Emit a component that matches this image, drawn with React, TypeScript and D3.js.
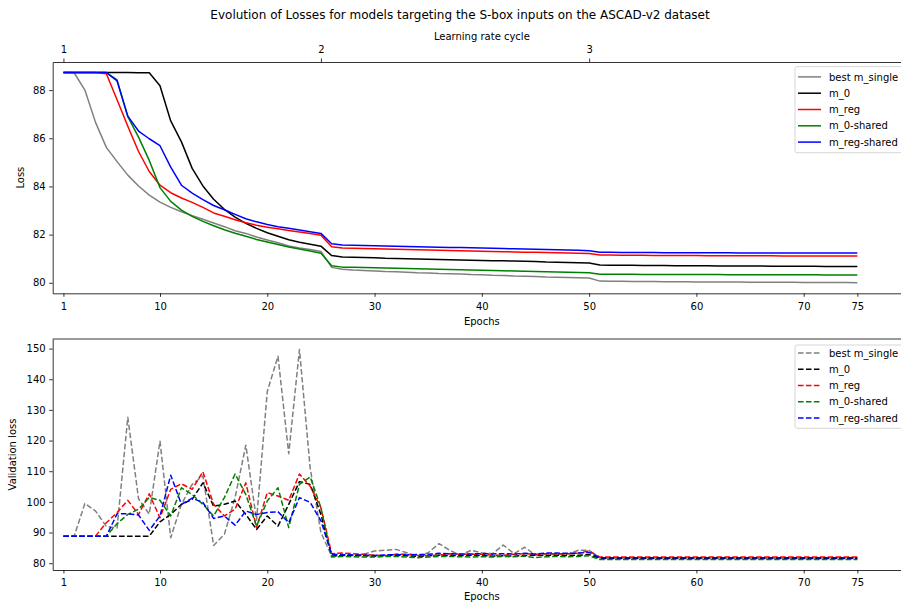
import React, { useEffect, useRef } from "react";
import * as d3 from "d3";

const epochs = d3.range(1, 76);
const seriesNames = ["best m_single", "m_0", "m_reg", "m_0-shared", "m_reg-shared"];

// training loss per epoch
const bestSingleLoss = [
  88.73, 88.72, 88.0, 86.65, 85.62, 85.03, 84.47, 84.02, 83.64, 83.35,
  83.13, 82.95, 82.79, 82.64, 82.48, 82.33, 82.16, 82.05, 81.9, 81.78,
  81.66, 81.53, 81.44, 81.38, 81.3, 80.64, 80.56, 80.53, 80.51, 80.49,
  80.47, 80.46, 80.44, 80.42, 80.41, 80.39, 80.38, 80.36, 80.34, 80.33,
  80.31, 80.3, 80.28, 80.27, 80.26, 80.24, 80.23, 80.22, 80.21, 80.2,
  80.07, 80.06, 80.06, 80.05, 80.05, 80.05, 80.04, 80.04, 80.04, 80.03,
  80.03, 80.03, 80.03, 80.03, 80.02, 80.02, 80.02, 80.02, 80.02, 80.01,
  80.01, 80.01, 80.01, 80.01, 80.0,
];
const m0Loss = [
  88.73, 88.73, 88.73, 88.73, 88.73, 88.73, 88.73, 88.72, 88.72, 88.18,
  86.72, 85.85, 84.75, 84.02, 83.47, 83.05, 82.73, 82.47, 82.26, 82.08,
  81.93, 81.79, 81.68, 81.6, 81.52, 81.13, 81.07, 81.06, 81.05, 81.04,
  81.02, 81.01, 81.0, 80.99, 80.98, 80.97, 80.96, 80.95, 80.94, 80.93,
  80.92, 80.91, 80.9, 80.89, 80.88, 80.86, 80.85, 80.84, 80.83, 80.82,
  80.74, 80.73, 80.73, 80.73, 80.72, 80.72, 80.72, 80.71, 80.71, 80.71,
  80.71, 80.7, 80.7, 80.7, 80.7, 80.7, 80.69, 80.69, 80.69, 80.69,
  80.69, 80.68, 80.68, 80.68, 80.68,
];
const mRegLoss = [
  88.73, 88.73, 88.73, 88.73, 88.68, 87.6, 86.5, 85.45, 84.62, 84.05,
  83.74, 83.52, 83.34, 83.13, 82.9, 82.76, 82.62, 82.49, 82.39, 82.31,
  82.24, 82.17, 82.11, 82.05, 81.97, 81.5, 81.44, 81.43, 81.42, 81.41,
  81.4, 81.39, 81.38, 81.37, 81.36, 81.35, 81.34, 81.33, 81.32, 81.31,
  81.3, 81.29, 81.28, 81.27, 81.27, 81.26, 81.25, 81.24, 81.23, 81.22,
  81.15, 81.15, 81.14, 81.14, 81.14, 81.13, 81.13, 81.13, 81.13, 81.13,
  81.12, 81.12, 81.12, 81.12, 81.12, 81.12, 81.12, 81.11, 81.11, 81.11,
  81.11, 81.11, 81.11, 81.11, 81.11,
];
const m0SharedLoss = [
  88.73, 88.73, 88.73, 88.73, 88.73, 88.42, 86.9, 86.05, 85.08, 83.95,
  83.38, 83.02, 82.76, 82.55, 82.37, 82.2, 82.06, 81.93, 81.8, 81.69,
  81.59, 81.49, 81.4, 81.32, 81.23, 80.71, 80.65, 80.64, 80.63, 80.62,
  80.61, 80.6, 80.59, 80.58, 80.57, 80.56, 80.55, 80.54, 80.53, 80.52,
  80.51, 80.5, 80.49, 80.48, 80.47, 80.46, 80.45, 80.44, 80.43, 80.42,
  80.35, 80.35, 80.35, 80.35, 80.34, 80.34, 80.34, 80.34, 80.34, 80.34,
  80.34, 80.34, 80.33, 80.33, 80.33, 80.33, 80.33, 80.33, 80.33, 80.33,
  80.33, 80.32, 80.32, 80.32, 80.32,
];
const mRegSharedLoss = [
  88.73, 88.73, 88.73, 88.73, 88.73, 88.38, 86.92, 86.3, 85.98, 85.69,
  84.8, 84.05, 83.72, 83.45, 83.21, 83.03, 82.84, 82.66, 82.53, 82.42,
  82.33, 82.26, 82.19, 82.12, 82.05, 81.62, 81.57, 81.56, 81.55, 81.54,
  81.53, 81.52, 81.51, 81.5, 81.49, 81.48, 81.47, 81.46, 81.45, 81.44,
  81.43, 81.42, 81.41, 81.4, 81.39, 81.38, 81.37, 81.36, 81.35, 81.33,
  81.27, 81.27, 81.26, 81.26, 81.26, 81.26, 81.25, 81.25, 81.25, 81.25,
  81.25, 81.25, 81.25, 81.24, 81.24, 81.24, 81.24, 81.24, 81.24, 81.24,
  81.24, 81.24, 81.24, 81.24, 81.24,
];

// validation loss per epoch
const bestSingleVal = [
  88.8, 88.8, 99.5, 97.0, 92.0, 91.5, 127.6, 101.0, 96.0, 119.8,
  88.3, 99.2, 105.7, 108.5, 85.8, 89.4, 101.4, 118.5, 94.0, 136.0,
  147.5, 115.7, 149.7, 111.0, 90.0, 82.3, 82.6, 82.6, 82.9, 84.0,
  84.2, 84.5, 83.4, 82.3, 83.4, 86.4, 84.2, 82.6, 84.2, 83.4,
  83.1, 85.9, 83.1, 85.2, 82.6, 82.9, 82.9, 82.9, 84.2, 84.2,
  81.7, 81.6, 81.6, 81.6, 81.6, 81.6, 81.6, 81.6, 81.6, 81.6,
  81.6, 81.6, 81.6, 81.6, 81.6, 81.6, 81.6, 81.6, 81.6, 81.6,
  81.6, 81.6, 81.6, 81.6, 81.6,
];
const m0Val = [
  88.8, 88.8, 88.8, 88.8, 88.8, 88.8, 88.8, 88.8, 88.8, 93.5,
  95.9, 99.2, 100.8, 106.2, 98.6, 99.2, 100.3, 95.9, 91.0, 95.4,
  92.1, 99.2, 106.6, 105.7, 95.9, 82.3, 82.5, 82.5, 82.4, 82.3,
  82.5, 82.6, 82.4, 82.2, 82.4, 82.6, 82.5, 82.5, 82.6, 82.5,
  82.3, 82.4, 82.3, 82.5, 82.6, 82.5, 82.6, 82.5, 82.6, 82.8,
  81.6, 81.5, 81.5, 81.5, 81.5, 81.5, 81.5, 81.5, 81.5, 81.5,
  81.5, 81.5, 81.5, 81.5, 81.5, 81.5, 81.5, 81.5, 81.5, 81.5,
  81.5, 81.5, 81.5, 81.5, 81.5,
];
const mRegVal = [
  88.8, 88.8, 88.8, 88.9, 93.2, 96.5, 100.5, 95.9, 102.6, 94.8,
  104.1, 105.9, 104.1, 109.8, 99.2, 95.4, 97.6, 106.2, 91.6, 103.0,
  101.9, 100.5, 109.1, 105.1, 98.1, 83.1, 83.3, 83.1, 82.9, 82.6,
  82.4, 82.9, 82.9, 82.6, 82.4, 82.6, 83.1, 82.9, 82.9, 82.9,
  82.6, 82.6, 82.9, 83.1, 82.9, 83.1, 83.1, 83.1, 83.3, 84.0,
  82.0, 82.0, 82.0, 82.0, 82.0, 82.0, 82.0, 82.0, 82.0, 82.0,
  82.0, 82.0, 82.0, 82.0, 82.0, 82.0, 82.0, 82.0, 82.0, 82.0,
  82.0, 82.0, 82.0, 82.0, 82.0,
];
const m0SharedVal = [
  88.8, 88.8, 88.8, 88.8, 88.8, 92.9, 95.9, 97.6, 101.4, 100.5,
  95.4, 104.6, 102.4, 99.2, 95.4, 101.4, 109.1, 102.4, 92.1, 100.3,
  104.6, 91.6, 105.7, 108.1, 98.1, 82.0, 82.2, 82.1, 82.0, 82.0,
  82.2, 82.2, 82.0, 81.8, 82.0, 82.2, 82.2, 82.1, 82.0, 82.1,
  82.0, 82.2, 82.1, 82.3, 81.8, 82.1, 82.2, 82.1, 82.2, 82.4,
  81.2, 81.2, 81.2, 81.2, 81.2, 81.2, 81.2, 81.2, 81.2, 81.2,
  81.2, 81.2, 81.2, 81.2, 81.2, 81.2, 81.2, 81.2, 81.2, 81.2,
  81.2, 81.2, 81.2, 81.2, 81.2,
];
const mRegSharedVal = [
  88.8, 88.8, 88.8, 88.8, 88.8, 96.1, 96.1, 95.7, 90.7, 95.4,
  108.7, 99.2, 101.2, 99.8, 94.6, 95.4, 92.4, 97.0, 95.9, 96.5,
  96.8, 93.2, 101.4, 99.8, 93.8, 82.9, 82.8, 82.7, 82.6, 82.5,
  82.7, 82.8, 82.7, 82.8, 82.9, 83.2, 83.1, 83.0, 83.0, 83.1,
  83.0, 83.1, 83.0, 83.2, 83.0, 83.3, 83.3, 83.2, 83.3, 83.5,
  81.8, 81.8, 81.8, 81.8, 81.8, 81.8, 81.8, 81.8, 81.8, 81.8,
  81.8, 81.8, 81.8, 81.8, 81.8, 81.8, 81.8, 81.8, 81.8, 81.8,
  81.8, 81.8, 81.8, 81.8, 81.8,
];

const xTickValues = [1, 10, 20, 30, 40, 50, 60, 70, 75];
const cycleTickEpochs = [1, 25, 50];
const cycleTickLabels = ["1", "2", "3"];
const lossTickValues = [80, 82, 84, 86, 88];
const valTickValues = [80, 90, 100, 110, 120, 130, 140, 150];

const colors = ["#808080", "#000000", "#ff0000", "#008000", "#0000ff"];
const FONT = "'DejaVu Sans', sans-serif";

const styleAxis = (g) => {
  g.attr("font-family", FONT).attr("font-size", 10);
  g.selectAll("path.domain").attr("stroke", "#000").attr("stroke-width", 0.8);
  g.selectAll(".tick line").attr("stroke", "#000").attr("stroke-width", 0.8);
  g.selectAll(".tick text").attr("fill", "#000");
};

const App = () => {
  const ref = useRef(null);

  useEffect(() => {
    const svg = d3.select(ref.current);
    svg.selectAll("*").remove();

    const left = 52.7;
    const right = 911;
    const x = d3.scaleLinear().domain([0, 80]).range([left, right]);

    svg
      .append("text")
      .attr("x", 460)
      .attr("y", 18.5)
      .attr("text-anchor", "middle")
      .attr("font-family", FONT)
      .attr("font-size", 12)
      .text("Evolution of Losses for models targeting the S-box inputs on the ASCAD-v2 dataset");

    const panels = [
      {
        top: 62,
        bottom: 293.3,
        series: [bestSingleLoss, m0Loss, mRegLoss, m0SharedLoss, mRegSharedLoss],
        ticks: lossTickValues,
        ylabel: "Loss",
        ylabelX: 24.3,
        xlabelY: 325.3,
        dash: null,
        legendTop: 66.7,
        legendH: 86,
        legendRow: 76.9,
        cycle: true,
      },
      {
        top: 339,
        bottom: 570,
        series: [bestSingleVal, m0Val, mRegVal, m0SharedVal, mRegSharedVal],
        ticks: valTickValues,
        ylabel: "Validation loss",
        ylabelX: 16.3,
        xlabelY: 599.5,
        dash: "5.55,2.4",
        legendTop: 345,
        legendH: 83.3,
        legendRow: 352.9,
        cycle: false,
      },
    ];

    panels.forEach((p) => {
      const [lo, hi] = d3.extent(p.series.flat());
      const pad = (hi - lo) * 0.05;
      const y = d3
        .scaleLinear()
        .domain([lo - pad, hi + pad])
        .range([p.bottom, p.top]);
      const g = svg.append("g");

      const line = d3
        .line()
        .x((d, i) => x(epochs[i]))
        .y((d) => y(d));

      p.series.forEach((s, i) => {
        g.append("path")
          .attr("d", line(s))
          .attr("fill", "none")
          .attr("stroke", colors[i])
          .attr("stroke-width", 1.5)
          .attr("stroke-linejoin", "round")
          .attr("stroke-dasharray", p.dash);
      });

      // bottom axis
      const gx = g
        .append("g")
        .attr("transform", `translate(0,${p.bottom})`)
        .call(d3.axisBottom(x).tickValues(xTickValues).tickSize(3.5).tickPadding(5.7).tickSizeOuter(0));
      styleAxis(gx);

      const gy = g
        .append("g")
        .attr("transform", `translate(${left},0)`)
        .call(d3.axisLeft(y).tickValues(p.ticks).tickSize(3.5).tickPadding(3.5).tickSizeOuter(0));
      styleAxis(gy);

      if (p.cycle) {
        const gt = g
          .append("g")
          .attr("transform", `translate(0,${p.top})`)
          .call(
            d3
              .axisTop(x)
              .tickValues(cycleTickEpochs)
              .tickFormat((d, i) => cycleTickLabels[i])
              .tickSize(3.5)
              .tickPadding(5.9)
              .tickSizeOuter(0)
          );
        styleAxis(gt);
        g.append("text")
          .attr("x", (left + right) / 2)
          .attr("y", 39.5)
          .attr("text-anchor", "middle")
          .attr("font-family", FONT)
          .attr("font-size", 10)
          .text("Learning rate cycle");
      } else {
        g.append("line")
          .attr("x1", left)
          .attr("x2", right)
          .attr("y1", p.top)
          .attr("y2", p.top)
          .attr("stroke", "#000")
          .attr("stroke-width", 0.8);
      }

      g.append("text")
        .attr("x", (left + right) / 2)
        .attr("y", p.xlabelY)
        .attr("text-anchor", "middle")
        .attr("font-family", FONT)
        .attr("font-size", 10)
        .text("Epochs");

      g.append("text")
        .attr("transform", `translate(${p.ylabelX},${(p.top + p.bottom) / 2}) rotate(-90)`)
        .attr("text-anchor", "middle")
        .attr("font-family", FONT)
        .attr("font-size", 10)
        .text(p.ylabel);

      // legend
      const lg = g.append("g");
      lg.append("rect")
        .attr("x", 795)
        .attr("y", p.legendTop)
        .attr("width", 130)
        .attr("height", p.legendH)
        .attr("rx", 2)
        .attr("fill", "#fff")
        .attr("fill-opacity", 0.8)
        .attr("stroke", "#cccccc")
        .attr("stroke-width", 0.8);
      seriesNames.forEach((name, i) => {
        const cy = p.legendRow + i * 16.3;
        lg.append("line")
          .attr("x1", 798)
          .attr("x2", 821)
          .attr("y1", cy)
          .attr("y2", cy)
          .attr("stroke", colors[i])
          .attr("stroke-width", 1.5)
          .attr("stroke-dasharray", p.dash);
        lg.append("text")
          .attr("x", 829)
          .attr("y", cy + 3.6)
          .attr("font-family", FONT)
          .attr("font-size", 10)
          .text(name);
      });
    });
  }, []);

  return (
    <svg
      ref={ref}
      width={901}
      height={602}
      style={{ position: "absolute", left: 0, top: 0, display: "block", background: "#fff" }}
    />
  );
};

export default App;
